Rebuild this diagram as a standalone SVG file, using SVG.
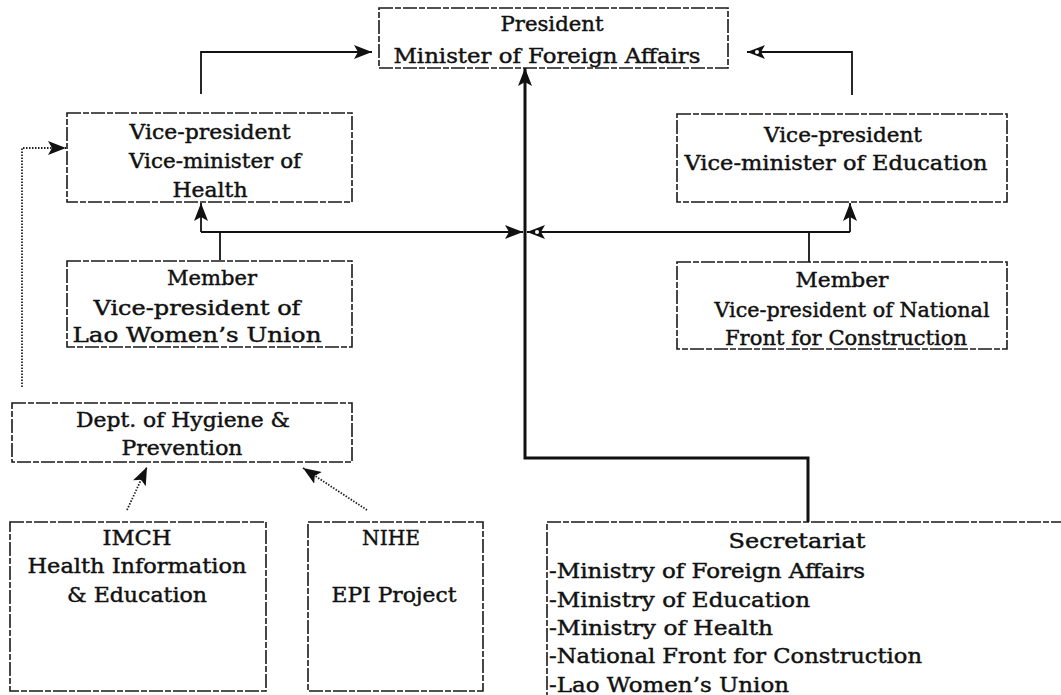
<svg xmlns="http://www.w3.org/2000/svg" width="1061" height="695" viewBox="0 0 1061 695">
<style>
.box{fill:none;stroke:#1a1a1a;stroke-width:1.6;stroke-dasharray:14 2 6 2}
text{font-family:"DejaVu Serif","Liberation Serif",serif;font-size:21px;fill:#111;stroke:#111;stroke-width:0.45}
.c{text-anchor:middle}
.ln{fill:none;stroke:#111;stroke-width:1.8}
.thick{fill:none;stroke:#111;stroke-width:3}
.dot{fill:none;stroke:#222;stroke-width:1.8;stroke-dasharray:1.5 1.5}
</style>
<defs>
<marker id="solid" viewBox="0 0 18 14" refX="18" refY="7" markerWidth="18" markerHeight="14" markerUnits="userSpaceOnUse" orient="auto">
<path d="M0,0 L18,7 L0,14 L4,7 Z" fill="#111"/>
</marker>
<marker id="open" viewBox="0 0 18 14" refX="18" refY="7" markerWidth="18" markerHeight="14" markerUnits="userSpaceOnUse" orient="auto">
<path d="M0,0 L18,7 L0,14 L4,7 Z" fill="#111"/>
<circle cx="8" cy="7" r="2" fill="#fff"/>
</marker>
</defs>
<rect width="1061" height="695" fill="#fff"/>
<g id="connectors">
<path class="ln" d="M201,94 V52 H372" marker-end="url(#solid)"/>
<path class="ln" d="M852,95 V52 H747" marker-end="url(#open)"/>
<path class="thick" d="M808,522 V458 H525 V68" marker-end="url(#solid)"/>
<path class="ln" d="M201,232 H523" marker-end="url(#solid)"/>
<path class="ln" d="M201,232 V203" stroke-width="2.5" marker-end="url(#solid)"/>
<path class="ln" d="M220,260 V232"/>
<path class="ln" d="M850,232 H527" marker-end="url(#open)"/>
<path class="ln" d="M850,232 V203" stroke-width="2.5" marker-end="url(#solid)"/>
<path class="ln" d="M809,262 V232" stroke-width="2.5"/>
<path class="dot" d="M22,387 V148 H66" marker-end="url(#solid)"/>
<path class="dot" d="M127,510 L147,467" marker-end="url(#solid)"/>
<path class="dot" d="M367,510 L303,468" marker-end="url(#solid)"/>
</g>
<g id="president">
<rect class="box" x="379" y="8" width="349" height="60"/>
<text class="c" x="552" y="31" textLength="103" lengthAdjust="spacingAndGlyphs">President</text>
<text class="c" x="547" y="63" textLength="307" lengthAdjust="spacingAndGlyphs">Minister of Foreign Affairs</text>
</g>
<g id="vp-health">
<rect class="box" x="67" y="113" width="285" height="89"/>
<text class="c" x="210" y="139" textLength="161" lengthAdjust="spacingAndGlyphs">Vice-president</text>
<text class="c" x="215" y="168" textLength="172" lengthAdjust="spacingAndGlyphs">Vice-minister of</text>
<text class="c" x="210" y="197" textLength="75" lengthAdjust="spacingAndGlyphs">Health</text>
</g>
<g id="vp-education">
<rect class="box" x="677" y="114" width="330" height="88"/>
<text class="c" x="843" y="142" textLength="158" lengthAdjust="spacingAndGlyphs">Vice-president</text>
<text class="c" x="836" y="170" textLength="303" lengthAdjust="spacingAndGlyphs">Vice-minister of Education</text>
</g>
<g id="member-lwu">
<rect class="box" x="67" y="261" width="285" height="86"/>
<text class="c" x="212" y="285" textLength="90" lengthAdjust="spacingAndGlyphs">Member</text>
<text class="c" x="197" y="315" textLength="207" lengthAdjust="spacingAndGlyphs">Vice-president of</text>
<text class="c" x="197" y="342" textLength="249" lengthAdjust="spacingAndGlyphs">Lao Women’s Union</text>
</g>
<g id="member-nfc">
<rect class="box" x="677" y="262" width="330" height="87"/>
<text class="c" x="842" y="287" textLength="93" lengthAdjust="spacingAndGlyphs">Member</text>
<text class="c" x="852" y="317" textLength="275" lengthAdjust="spacingAndGlyphs">Vice-president of National</text>
<text class="c" x="846" y="345" textLength="242" lengthAdjust="spacingAndGlyphs">Front for Construction</text>
</g>
<g id="dept-hygiene">
<rect class="box" x="12" y="403" width="340" height="59"/>
<text class="c" x="183" y="427" textLength="214" lengthAdjust="spacingAndGlyphs">Dept. of Hygiene &amp;</text>
<text class="c" x="182" y="455" textLength="121" lengthAdjust="spacingAndGlyphs">Prevention</text>
</g>
<g id="imch">
<rect class="box" x="10" y="522" width="256" height="169"/>
<text class="c" x="137" y="545" textLength="69" lengthAdjust="spacingAndGlyphs">IMCH</text>
<text class="c" x="137" y="573" textLength="219" lengthAdjust="spacingAndGlyphs">Health Information</text>
<text class="c" x="137" y="602" textLength="140" lengthAdjust="spacingAndGlyphs">&amp; Education</text>
</g>
<g id="nihe">
<rect class="box" x="308" y="522" width="175" height="169"/>
<text class="c" x="391" y="545" textLength="58" lengthAdjust="spacingAndGlyphs">NIHE</text>
<text class="c" x="394" y="602" textLength="125" lengthAdjust="spacingAndGlyphs">EPI Project</text>
</g>
<g id="secretariat">
<rect class="box" x="547" y="522" width="530" height="190"/>
<text class="c" x="797" y="548" textLength="137" lengthAdjust="spacingAndGlyphs">Secretariat</text>
<text x="549" y="578" textLength="316" lengthAdjust="spacingAndGlyphs">-Ministry of Foreign Affairs</text>
<text x="549" y="607" textLength="261" lengthAdjust="spacingAndGlyphs">-Ministry of Education</text>
<text x="549" y="635" textLength="224" lengthAdjust="spacingAndGlyphs">-Ministry of Health</text>
<text x="549" y="663" textLength="373" lengthAdjust="spacingAndGlyphs">-National Front for Construction</text>
<text x="549" y="692" textLength="240" lengthAdjust="spacingAndGlyphs">-Lao Women’s Union</text>
</g>
</svg>
